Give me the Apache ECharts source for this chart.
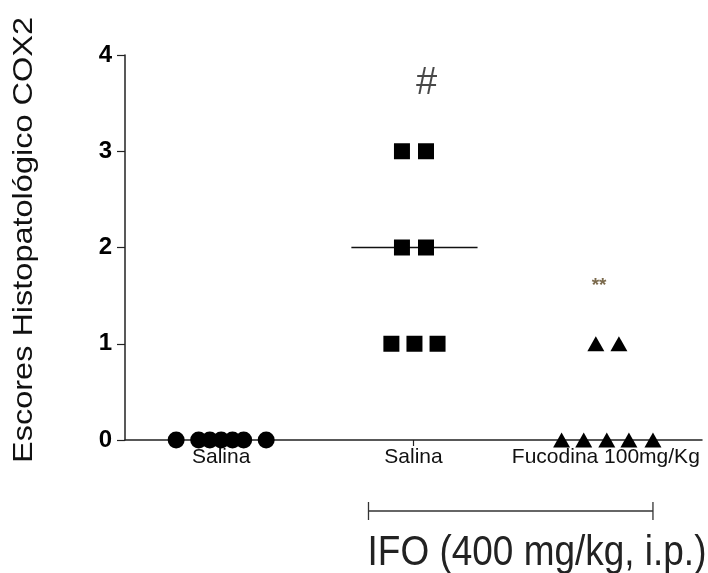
<!DOCTYPE html>
<html>
<head>
<meta charset="utf-8">
<script src="https://cdn.jsdelivr.net/npm/echarts@6/dist/echarts.min.js"></script>
<style>
  html, body { margin: 0; padding: 0; background: #fff; }
  #chart { width: 708px; height: 573px; }
</style>
</head>
<body>
<div id="chart"></div>
<script>
// grupos no eixo x
const groupLabels = ['Salina', 'Salina', 'Fucodina 100mg/Kg'];
const groupPos = [1, 2, 3];
const yTicks = [0, 1, 2, 3, 4];

// escores (com o deslocamento horizontal de cada ponto)
const salinaScores = [0, 0, 0, 0, 0, 0, 0];
const salinaJitter = [-0.234, -0.117, -0.059, 0, 0.059, 0.117, 0.234];
const ifoScores = [3, 3, 2, 2, 1, 1, 1];
const ifoJitter = [-0.06, 0.065, -0.06, 0.065, -0.115, 0.005, 0.125];
const fucoScores = [1, 1, 0, 0, 0, 0, 0];
const fucoJitter = [-0.052, 0.068, -0.23, -0.115, 0.005, 0.12, 0.245];

const ifoMedian = 2;
const medianSpan = [-0.323, 0.333];

// marcas de significância: [x, y, texto]
const signifMarks = [[2.065, 3.7, '#'], [2.965, 1.6, '**']];

function toPoints(pos, jitter, scores) {
    return scores.map((s, i) => [pos + jitter[i], s]);
}

const chart = echarts.init(document.getElementById('chart'));

const option = {
    animation: false,
    backgroundColor: '#fff',
    grid: { left: 125, right: 6, top: 55, bottom: 133 },
    xAxis: {
        type: 'value',
        min: 0.5,
        max: 3.5,
        splitLine: { show: false },
        axisLine: { lineStyle: { color: '#222', width: 1.5 } },
        axisTick: {
            customValues: groupPos,
            length: 6,
            lineStyle: { color: '#222', width: 1.2 }
        },
        axisLabel: {
            customValues: groupPos,
            margin: 7,
            color: '#111',
            fontSize: 21,
            fontFamily: 'Liberation Sans, Arial, sans-serif',
            formatter: v => groupLabels[groupPos.indexOf(v)] || ''
        }
    },
    yAxis: {
        type: 'value',
        min: 0,
        max: 4,
        interval: 1,
        splitLine: { show: false },
        axisLine: { show: true, lineStyle: { color: '#222', width: 1.5 } },
        axisTick: { show: true, length: 8, lineStyle: { color: '#222', width: 1.2 } },
        axisLabel: {
            margin: 13,
            color: '#000',
            fontSize: 24,
            fontWeight: 'bold',
            fontFamily: 'Liberation Sans, Arial, sans-serif',
            formatter: v => yTicks.includes(v) ? String(v) : ''
        }
    },
    series: [
        {
            name: 'mediana',
            type: 'line',
            data: [[2 + medianSpan[0], ifoMedian], [2 + medianSpan[1], ifoMedian]],
            symbol: 'none',
            lineStyle: { color: '#111', width: 1.5 },
            z: 1
        },
        {
            name: 'Salina',
            type: 'scatter',
            data: toPoints(groupPos[0], salinaJitter, salinaScores),
            symbol: 'circle',
            symbolSize: 17,
            itemStyle: { color: '#000', opacity: 1 },
            clip: false,
            z: 3
        },
        {
            name: 'IFO + Salina',
            type: 'scatter',
            data: toPoints(groupPos[1], ifoJitter, ifoScores),
            symbol: 'rect',
            symbolSize: 16,
            itemStyle: { color: '#000', opacity: 1 },
            clip: false,
            z: 3
        },
        {
            name: 'IFO + Fucodina',
            type: 'scatter',
            data: toPoints(groupPos[2], fucoJitter, fucoScores),
            symbol: 'triangle',
            symbolSize: [17, 15],
            itemStyle: { color: '#000', opacity: 1 },
            clip: false,
            z: 3
        },
        {
            name: 'sig',
            type: 'scatter',
            symbolSize: 0,
            silent: true,
            clip: false,
            data: signifMarks.map(m => ({
                value: m,
                label: m[2] === '#'
                    ? { fontSize: 38, fontStyle: 'italic', color: '#1a1a1a' }
                    : { fontSize: 19, fontWeight: 'bold', color: '#5a4520' }
            })),
            label: {
                show: true,
                position: 'inside',
                formatter: p => p.value[2],
                fontFamily: 'Liberation Sans, Arial, sans-serif'
            },
            z: 4
        }
    ]
};

chart.setOption(option);

// colchete e legenda do IFO, abaixo do eixo
const bx0 = chart.convertToPixel({ xAxisIndex: 0 }, 1.766);
const bx1 = chart.convertToPixel({ xAxisIndex: 0 }, 3.245);
const by = 511;
chart.setOption({
    graphic: [
        {
            type: 'line',
            shape: { x1: bx0, y1: by, x2: bx1, y2: by },
            style: { stroke: '#333', lineWidth: 1.3 }
        },
        {
            type: 'line',
            shape: { x1: bx0, y1: by - 9, x2: bx0, y2: by + 9 },
            style: { stroke: '#333', lineWidth: 1.3 }
        },
        {
            type: 'line',
            shape: { x1: bx1, y1: by - 9, x2: bx1, y2: by + 9 },
            style: { stroke: '#333', lineWidth: 1.3 }
        },
        {
            type: 'text',
            x: 537,
            y: 553,
            scaleX: 0.88,
            style: {
                text: 'IFO (400 mg/kg, i.p.)',
                fill: '#222',
                font: '42px "Liberation Sans", Arial, sans-serif',
                align: 'center',
                verticalAlign: 'middle'
            }
        },
        {
            type: 'text',
            x: 24,
            y: 240,
            rotation: Math.PI / 2,
            scaleX: 1.16,
            style: {
                text: 'Escores Histopatológico COX2',
                fill: '#111',
                font: '28px "Liberation Sans", Arial, sans-serif',
                align: 'center',
                verticalAlign: 'middle'
            }
        }
    ]
});

window.addEventListener('resize', function() {
    chart && chart.resize();
});
</script>
</body>
</html>
